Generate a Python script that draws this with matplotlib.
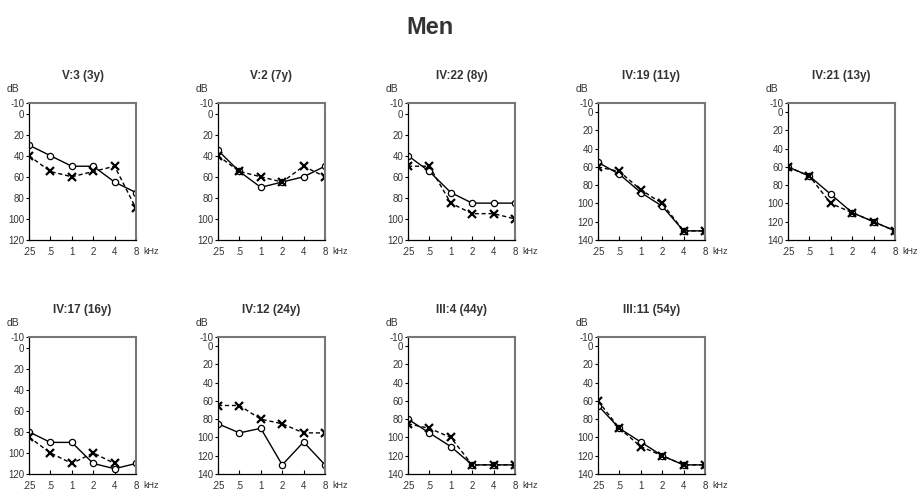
import matplotlib.pyplot as plt
import numpy as np

plt.rcParams['font.family'] = ['Liberation Sans', 'DejaVu Sans']
plt.rcParams['axes.unicode_minus'] = False

freqs = ['.25', '.5', '1', '2', '4', '8']

titles = ['V:3 (3y)', 'V:2 (7y)', 'IV:22 (8y)', 'IV:19 (11y)', 'IV:21 (13y)',
          'IV:17 (16y)', 'IV:12 (24y)', 'III:4 (44y)', 'III:11 (54y)']
ymax = [120, 120, 120, 140, 140, 120, 140, 140, 140]

# circles, solid line
right_ear = [
    [30, 40, 50, 50, 65, 75],
    [35, 55, 70, 65, 60, 50],
    [40, 55, 75, 85, 85, 85],
    [55, 68, 88, 103, 130, 130],
    [60, 70, 90, 110, 120, 130],
    [80, 90, 90, 110, 115, 110],
    [85, 95, 90, 130, 105, 130],
    [80, 95, 110, 130, 130, 130],
    [65, 90, 105, 120, 130, 130],
]
# crosses, dashed line
left_ear = [
    [40, 55, 60, 55, 50, 90],
    [40, 55, 60, 65, 50, 60],
    [50, 50, 85, 95, 95, 100],
    [60, 65, 85, 100, 130, 130],
    [60, 70, 100, 110, 120, 130],
    [85, 100, 110, 100, 110, np.nan],
    [65, 65, 80, 85, 95, 95],
    [85, 90, 100, 130, 130, 130],
    [60, 90, 110, 120, 130, 130],
]

W, H = 917, 490
fig = plt.figure(figsize=(W / 100, H / 100), dpi=100)
fig.text(0.469, 1 - 28 / H, 'Men', ha='center', va='center',
         fontsize=17, fontweight='bold', color='#333333')

col_left = [29, 218, 408, 598, 788]
row_top = [103, 337]
aw, ah = 107, 137
x = np.arange(len(freqs))

for i, title in enumerate(titles):
    r, c = divmod(i, 5)
    left = col_left[c]
    top = row_top[r]
    ax = fig.add_axes([left / W, 1 - (top + ah) / H, aw / W, ah / H])

    ax.plot(x, right_ear[i], '-', color='black', lw=1,
            marker='o', ms=4.5, mfc='white', mec='black', mew=0.9)
    ax.plot(x, left_ear[i], '--', color='black', lw=1, dashes=(3, 2),
            marker='x', ms=5.5, mec='black', mew=1.6)

    ax.set_xlim(0, 5)
    ax.set_ylim(ymax[i], -10)
    ax.set_yticks([-10, 0] + list(range(20, ymax[i] + 1, 20)))
    ax.set_xticks(x)
    ax.set_xticklabels(freqs)
    ax.tick_params(axis='y', direction='out', length=2.5, width=0.8,
                   labelsize=7, pad=1, labelcolor='#333333')
    ax.tick_params(axis='x', direction='in', length=3, width=0.8,
                   labelsize=7, pad=5, labelcolor='#333333')
    for side in ['top', 'right']:
        ax.spines[side].set_color('#777777')
        ax.spines[side].set_linewidth(1.5)
    for side in ['left', 'bottom']:
        ax.spines[side].set_color('black')
        ax.spines[side].set_linewidth(0.9)

    ax.annotate('kHz', xy=(5, 0), xycoords=ax.get_xaxis_transform(),
                xytext=(5, -5), textcoords='offset points',
                ha='left', va='top', fontsize=6.5, color='#333333')
    ax.annotate('dB', xy=(0, 1), xycoords='axes fraction',
                xytext=(-7, 10), textcoords='offset points',
                ha='right', va='center', fontsize=7.5, color='#333333')
    ax.set_title(title, fontsize=8.5, fontweight='bold', color='#333333',
                 pad=17)

fig.savefig('out.png', dpi=100)
